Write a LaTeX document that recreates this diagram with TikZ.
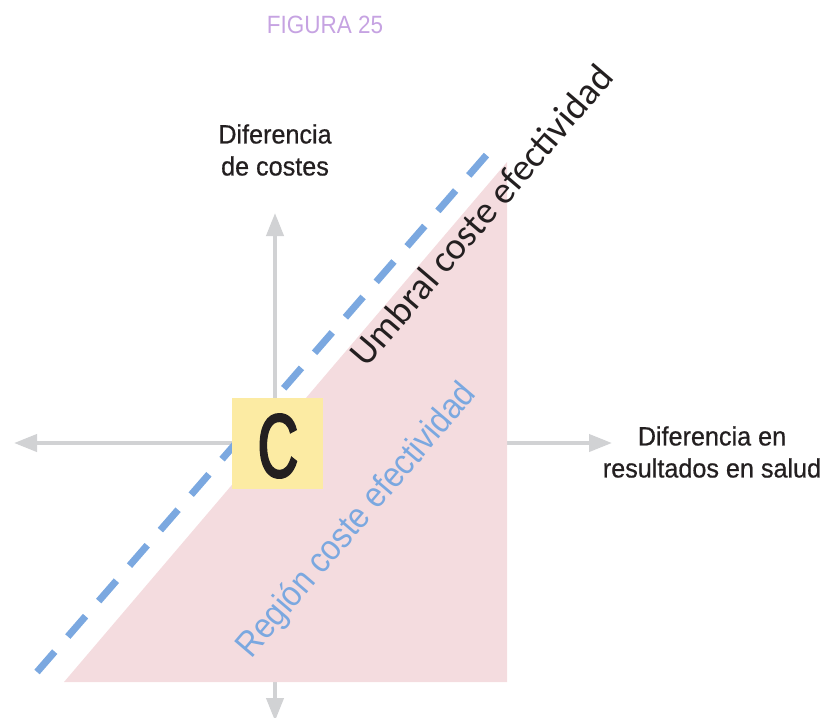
\documentclass[tikz,border=0pt]{standalone}
\usepackage{fontspec}
\setmainfont{Liberation Sans}[FakeStretch=0.95, FakeBold=0.6]
\newfontfamily\umbralfont{Carlito}
\newfontfamily\captionfont{Liberation Sans}[FakeStretch=0.9]
\newfontfamily\letterfont{Liberation Sans}[FakeStretch=0.62, FakeBold=2.5]
\usetikzlibrary{arrows.meta,positioning}
\definecolor{Ink}{HTML}{231F20}
\definecolor{Axis}{HTML}{D1D2D4}
\definecolor{Region}{HTML}{F4DCDF}
\definecolor{Threshold}{HTML}{7BA8E0}
\definecolor{Note}{HTML}{FCEBA3}
\definecolor{Caption}{HTML}{C6A3E2}
\tikzset{
  axis/.style={draw=Axis, line width=4pt, {Triangle[length=23pt,width=17pt]}-{Triangle[length=23pt,width=17pt]}},
  axislabel/.style={text=Ink, align=center, inner sep=0pt, font=\fontsize{26.5}{32}\selectfont},
  threshold/.style={draw=Threshold, line width=7pt, dash pattern=on 27pt off 20pt},
  slanted/.style={rotate=49.5, inner sep=0pt}
}

\begin{document}
\begin{tikzpicture}[x=1pt, y=-1pt]
  \useasboundingbox (0,0) rectangle (826,717);
  % axes
  \coordinate (xleft) at (14,443);
  \coordinate (xright) at (612,443);
  \coordinate (ytop) at (275,213);
  \coordinate (ybottom) at (275,721);
  \draw[axis] (xleft) -- (xright);
  \draw[axis] (ybottom) -- (ytop);

  % cost-effective region
  \coordinate (rleft) at (64,682);
  \coordinate (rright) at (507,682);
  \coordinate (rtop) at (507,162);
  \fill[Region] (rleft) -- (rright) -- (rtop) -- cycle;

  % threshold line
  \coordinate (tstart) at (37,672);
  \coordinate (tend) at (490,151);
  \draw[threshold] (tstart) -- (tend);

  \node[fill=Note, minimum size=91pt, inner sep=0pt] (point) at (277.5,443.5) {};
  \node[text=Ink, font=\letterfont\fontsize{90}{90}\selectfont, inner sep=0pt] (letter) at (278,446) {C};

  \node[slanted, text=Ink, font=\umbralfont\fontsize{38}{40}\selectfont] (umbral) at (481,215) {Umbral coste efectividad};
  \node[slanted, text=Threshold, font=\captionfont\fontsize{35.5}{38}\selectfont] (region) at (357,521) {Región coste efectividad};

  \node[axislabel] (ylabel) at (275,150) {Diferencia\\de costes};
  \node[axislabel] (xlabel) at (712,452) {Diferencia en\\resultados en salud};
  \node[text=Caption, inner sep=0pt, font=\captionfont\fontsize{25}{28}\selectfont] (title) at (325,25) {FIGURA 25};
\end{tikzpicture}
\end{document}
